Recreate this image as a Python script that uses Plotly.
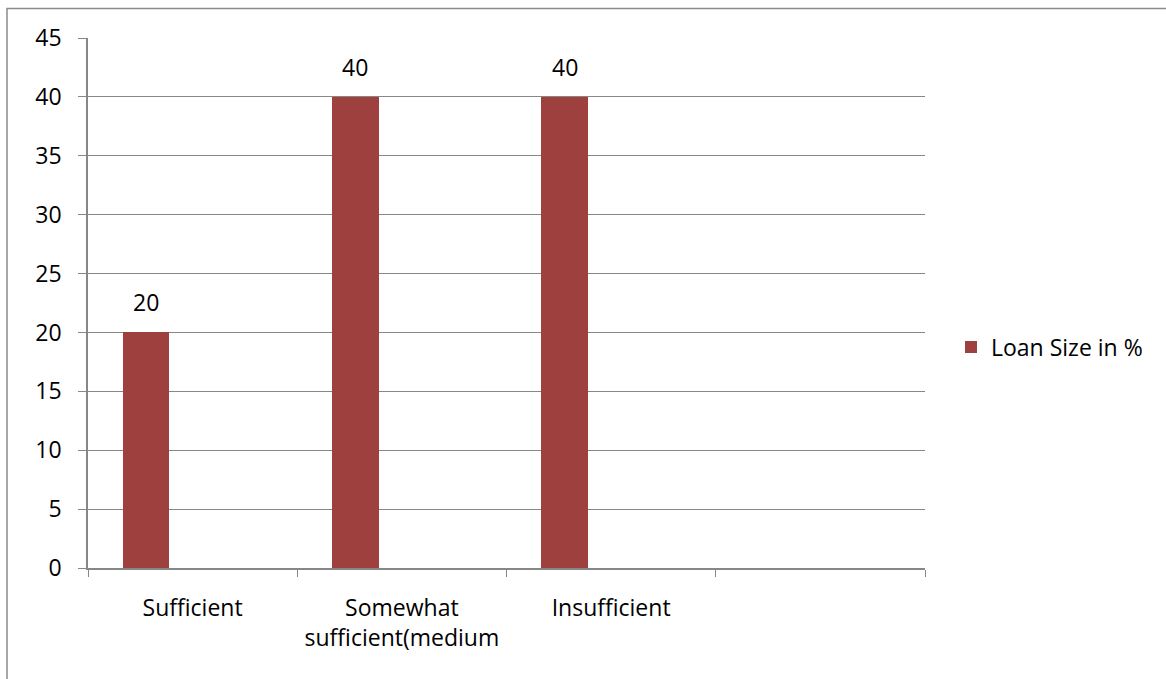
import plotly.graph_objects as go

categories = ["Sufficient", "Somewhat<br>sufficient(medium", "Insufficient", " "]
values = [20, 40, 40, None]
series_name = "Loan Size in %"
y_ticks = [0, 5, 10, 15, 20, 25, 30, 35, 40, 45]

FONT = "Open Sans"
FS = 23
GRID = "#878787"
BAR = "#9E413E"

W, H = 1166, 679
L, R, T, B = 88, 241, 38, 111
pw, ph = W - L - R, H - T - B

fig = go.Figure()
fig.add_trace(go.Bar(
    x=categories, y=values, name=series_name,
    marker=dict(color=BAR, line=dict(width=0)),
    width=0.222, offset=-0.333,
    hoverinfo="x+y",
))

# data labels
for i, v in enumerate(values):
    if v is None:
        continue
    fig.add_annotation(
        x=i - 0.222, y=v, xref="x", yref="y", text=str(v),
        showarrow=False, yanchor="bottom", yshift=12,
        font=dict(family=FONT, size=FS, color="#000000"),
    )

# outer chart border (cropped on right/bottom)
fig.add_shape(
    type="rect", xref="paper", yref="paper",
    x0=(7 - L) / pw, x1=(W + 20 - L) / pw,
    y0=(T + ph - (H + 20)) / ph, y1=(T + ph - 8.5) / ph,
    line=dict(color="#8a8a8a", width=1.5), fillcolor="rgba(0,0,0,0)",
    layer="below",
)

fig.update_layout(
    width=W, height=H,
    margin=dict(l=L, r=R, t=T, b=B),
    paper_bgcolor="white", plot_bgcolor="white",
    font=dict(family=FONT, size=FS, color="#000000"),
    showlegend=True,
    legend=dict(
        x=(951 - L) / pw, xanchor="left",
        y=(T + ph - 347) / ph, yanchor="middle",
        font=dict(family=FONT, size=FS, color="#000000"),
        bgcolor="rgba(0,0,0,0)",
    ),
    bargap=0,
)
fig.update_xaxes(
    type="category", categoryorder="array", categoryarray=categories,
    range=[-0.5, len(categories) - 0.5],
    tickson="boundaries", ticks="outside", ticklen=7, tickcolor=GRID, tickwidth=1,
    showline=True, linecolor=GRID, linewidth=1.5,
    showgrid=False, ticklabelstandoff=19,
    tickfont=dict(family=FONT, size=FS, color="#000000"),
)
fig.update_yaxes(
    range=[0, 45], tickvals=y_ticks, ticks="outside", ticklen=8,
    tickcolor=GRID, tickwidth=1,
    showline=True, linecolor=GRID, linewidth=1.5,
    showgrid=True, gridcolor=GRID, gridwidth=1, zeroline=False,
    ticklabelstandoff=12,
    tickfont=dict(family=FONT, size=FS, color="#000000"),
)

fig.write_html("out.html")
